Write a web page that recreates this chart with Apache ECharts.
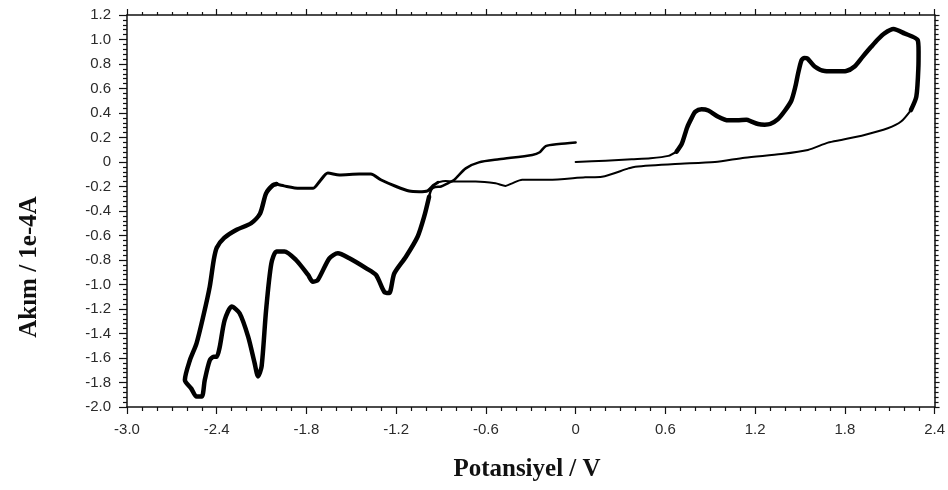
<!DOCTYPE html>
<html>
<head>
<meta charset="utf-8">
<script src="https://cdn.jsdelivr.net/npm/echarts@6/dist/echarts.min.js"></script>
<style>
  html, body { margin: 0; padding: 0; background: #fff; }
  #chart { width: 948px; height: 490px; }
</style>
</head>
<body>
<div id="chart"></div>
<script>
// Cyclic voltammogram: potential (V) vs current (1e-4 A), traced as consecutive branches.

// Axis ranges
const xRange = { min: -3.0, max: 2.4, step: 0.6 };
const yRange = { min: -2.0, max: 1.2, step: 0.2 };

// Anodic scan starting at 0 V, flat part
const anodicBase = [
  [0.0, 0.0], [0.2, 0.01], [0.375, 0.022], [0.5, 0.03], [0.62, 0.05], [0.675, 0.085]
];

// Anodic peaks up to the switching potential
const anodicPeaks = [
  [0.675, 0.085], [0.71, 0.15], [0.745, 0.28], [0.776, 0.36], [0.80, 0.41], [0.842, 0.43],
  [0.887, 0.42], [0.953, 0.37], [1.02, 0.34], [1.08, 0.34], [1.142, 0.345], [1.176, 0.33],
  [1.22, 0.31], [1.264, 0.305], [1.30, 0.31], [1.353, 0.35], [1.40, 0.42], [1.442, 0.50],
  [1.47, 0.62], [1.487, 0.72], [1.51, 0.83], [1.53, 0.85], [1.55, 0.845], [1.598, 0.78],
  [1.665, 0.743], [1.75, 0.74], [1.809, 0.743], [1.865, 0.78], [1.92, 0.86], [1.976, 0.94],
  [2.02, 1.0], [2.065, 1.05], [2.125, 1.085], [2.198, 1.05], [2.287, 0.996], [2.293, 0.9],
  [2.292, 0.78], [2.278, 0.533], [2.242, 0.424]
];

// Reverse scan back towards negative potentials
const cathodicReturn = [
  [2.242, 0.424], [2.176, 0.33], [2.087, 0.275], [1.931, 0.22], [1.776, 0.18], [1.687, 0.158],
  [1.553, 0.098], [1.375, 0.065], [1.13, 0.035], [0.931, 0.0], [0.665, -0.016], [0.398, -0.038],
  [0.353, -0.052], [0.176, -0.12], [0.064, -0.125], [-0.18, -0.145], [-0.358, -0.145],
  [-0.424, -0.174], [-0.469, -0.195], [-0.536, -0.174], [-0.669, -0.16], [-0.824, -0.16],
  [-0.87, -0.155], [-0.92, -0.165]
];

// Cathodic plateau region
const cathodicPlateau = [
  [-0.92, -0.165], [-0.95, -0.19], [-0.99, -0.235], [-1.047, -0.242], [-1.113, -0.237],
  [-1.20, -0.20], [-1.30, -0.147], [-1.37, -0.098], [-1.447, -0.098], [-1.58, -0.106],
  [-1.657, -0.09], [-1.713, -0.16], [-1.757, -0.215], [-1.847, -0.215], [-1.95, -0.195],
  [-2.0, -0.18]
];

// Deep reduction waves, second switching point and re-oxidation peaks
const reductionLoop = [
  [-2.0, -0.18], [-2.025, -0.19], [-2.07, -0.256], [-2.11, -0.42], [-2.17, -0.50],
  [-2.27, -0.555], [-2.35, -0.62], [-2.40, -0.70], [-2.42, -0.80], [-2.447, -1.02],
  [-2.49, -1.26], [-2.535, -1.48], [-2.58, -1.62], [-2.613, -1.78], [-2.57, -1.85],
  [-2.535, -1.915], [-2.50, -1.915], [-2.48, -1.78], [-2.447, -1.62], [-2.42, -1.59],
  [-2.40, -1.59], [-2.38, -1.51], [-2.347, -1.29], [-2.30, -1.18], [-2.247, -1.235],
  [-2.19, -1.426], [-2.147, -1.64], [-2.124, -1.75], [-2.10, -1.67], [-2.07, -1.21],
  [-2.035, -0.83], [-2.0, -0.73], [-1.947, -0.73], [-1.87, -0.80], [-1.79, -0.92],
  [-1.757, -0.977], [-1.724, -0.963], [-1.647, -0.786], [-1.59, -0.745], [-1.513, -0.786],
  [-1.40, -0.868], [-1.335, -0.922], [-1.28, -1.06], [-1.247, -1.07], [-1.213, -0.91],
  [-1.135, -0.773], [-1.057, -0.61], [-1.013, -0.446], [-0.98, -0.283]
];

// Final rise back to 0 V
const anodicReturn = [
  [-0.98, -0.283], [-0.965, -0.225], [-0.94, -0.205], [-0.9, -0.2], [-0.85, -0.17],
  [-0.813, -0.147], [-0.735, -0.052], [-0.647, -0.003], [-0.513, 0.022], [-0.29, 0.057],
  [-0.24, 0.08], [-0.20, 0.13], [-0.113, 0.147], [0.0, 0.16]
];

const xTitle = 'Potansiyel / V';
const yTitle = 'Akım / 1e-4A';

const labelFont = { fontFamily: 'Liberation Sans, Arial, sans-serif', fontSize: 15, color: '#2b2b2b' };
const titleFont = 'bold 25px "Liberation Serif", "Times New Roman", serif';

function tickText(v) {
  return Math.abs(v) < 1e-9 ? '0' : v.toFixed(1);
}

function branch(data, width) {
  return {
    type: 'line',
    data: data,
    xAxisIndex: 0,
    yAxisIndex: 0,
    showSymbol: false,
    symbol: 'none',
    smooth: 0.25,
    lineStyle: { color: '#000', width: width, cap: 'round', join: 'round' },
    silent: true
  };
}

const axisLine = { show: true, onZero: false, lineStyle: { color: '#111', width: 1.5 } };

const chart = echarts.init(document.getElementById('chart'), null, { renderer: 'canvas' });
chart.setOption({
  animation: false,
  backgroundColor: '#fff',
  grid: { left: 127, right: 11, top: 15, bottom: 83, containLabel: false },
  xAxis: [
    {
      type: 'value', position: 'bottom',
      min: xRange.min, max: xRange.max, interval: xRange.step,
      axisLine: axisLine,
      axisTick: { show: true, inside: false, length: 7, lineStyle: { color: '#111', width: 1.2 } },
      minorTick: { show: true, splitNumber: 6, length: 4, lineStyle: { color: '#111', width: 1.2 } },
      axisLabel: Object.assign({ margin: 15, formatter: tickText }, labelFont),
      splitLine: { show: false }
    },
    {
      type: 'value', position: 'top',
      min: xRange.min, max: xRange.max, interval: xRange.step,
      axisLine: axisLine,
      axisTick: { show: true, inside: false, length: 6, lineStyle: { color: '#111', width: 1.2 } },
      minorTick: { show: true, splitNumber: 6, length: 3, lineStyle: { color: '#111', width: 1.2 } },
      axisLabel: { show: false },
      splitLine: { show: false }
    }
  ],
  yAxis: [
    {
      type: 'value', position: 'left',
      min: yRange.min, max: yRange.max, interval: yRange.step,
      axisLine: axisLine,
      axisTick: { show: true, inside: false, length: 8, lineStyle: { color: '#111', width: 1.2 } },
      minorTick: { show: true, splitNumber: 5, length: 4, lineStyle: { color: '#111', width: 1.2 } },
      axisLabel: Object.assign({ margin: 16, formatter: tickText }, labelFont),
      splitLine: { show: false }
    },
    {
      type: 'value', position: 'right',
      min: yRange.min, max: yRange.max, interval: yRange.step,
      axisLine: axisLine,
      axisTick: { show: true, inside: false, length: 5, lineStyle: { color: '#111', width: 1.2 } },
      minorTick: { show: true, splitNumber: 5, length: 4, lineStyle: { color: '#111', width: 1.2 } },
      axisLabel: { show: false },
      splitLine: { show: false }
    }
  ],
  graphic: [
    {
      type: 'text', x: 527, y: 470,
      style: { text: xTitle, font: titleFont, fill: '#111', textAlign: 'center', textVerticalAlign: 'middle' }
    },
    {
      type: 'text', x: 30, y: 267, rotation: Math.PI / 2,
      style: { text: yTitle, font: titleFont, fill: '#111', textAlign: 'center', textVerticalAlign: 'middle' }
    }
  ],
  series: [
    branch(anodicBase, 2),
    branch(anodicPeaks, 4.5),
    branch(cathodicReturn, 2),
    branch(cathodicPlateau, 3),
    branch(reductionLoop, 4.5),
    branch(anodicReturn, 2.5)
  ]
});
</script>
</body>
</html>
